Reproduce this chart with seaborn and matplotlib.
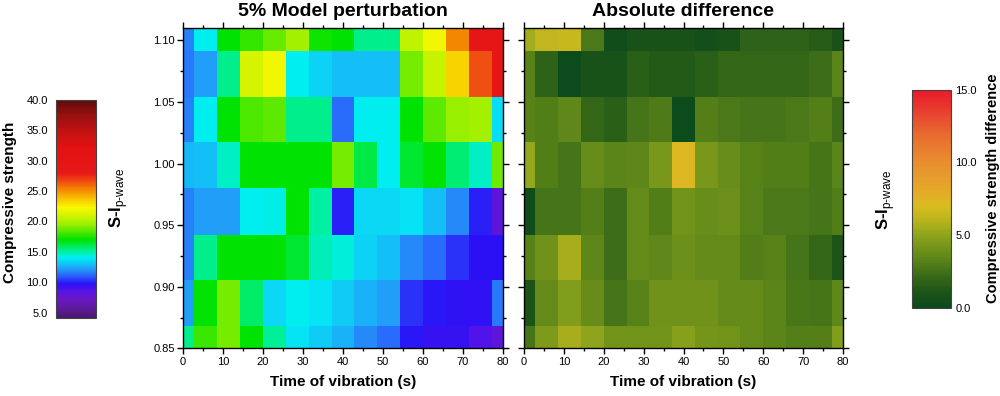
import matplotlib
matplotlib.use("Agg")
import numpy as np
import matplotlib.pyplot as plt
import seaborn as sns
from matplotlib.colors import LinearSegmentedColormap, Normalize
from matplotlib.ticker import MultipleLocator, FormatStrFormatter

# model grid (cell centres)
time_s = [0, 5.71, 11.43, 17.14, 22.86, 28.57, 34.29, 40, 45.71, 51.43, 57.14, 62.86, 68.57, 74.29, 80]
si_pwave = [0.85, 0.887, 0.924, 0.961, 0.999, 1.036, 1.073, 1.11]

# compressive strength, 5% perturbation (rows = si_pwave, bottom to top)
strength_085 = [15.3, 18.0, 19.0, 17.0, 15.2, 13.8, 13.2, 12.6, 11.8, 11.2, 9.8, 9.5, 9.5, 8.8, 8.0]
strength_089 = [12.2, 17.0, 19.0, 15.8, 13.5, 14.0, 13.8, 13.2, 12.6, 12.2, 10.3, 9.8, 9.6, 9.6, 11.5]
strength_092 = [11.7, 15.3, 17.0, 17.0, 17.0, 16.5, 14.8, 14.4, 13.4, 13.0, 11.8, 11.2, 10.3, 9.7, 9.7]
strength_096 = [11.7, 12.2, 12.3, 14.0, 14.2, 17.0, 15.0, 10.0, 13.5, 13.5, 13.8, 13.0, 11.8, 10.0, 8.0]
strength_100 = [12.8, 13.0, 14.6, 17.0, 17.0, 17.0, 17.0, 19.0, 16.2, 14.0, 16.5, 17.0, 15.6, 14.6, 18.8]
strength_104 = [11.7, 14.0, 17.0, 18.3, 18.5, 15.3, 15.3, 11.3, 14.0, 14.0, 17.0, 18.5, 19.5, 19.8, 13.7]
strength_107 = [11.5, 12.2, 15.3, 21.0, 22.0, 14.0, 13.3, 13.0, 13.0, 13.0, 19.0, 20.7, 23.3, 26.5, 29.0]
strength_111 = [11.7, 14.0, 17.0, 17.8, 18.7, 19.8, 17.3, 17.0, 15.3, 15.3, 20.5, 22.0, 25.3, 29.0, 29.0]

# absolute difference
diff_085 = [2.6, 4.5, 5.6, 5.0, 4.1, 4.1, 4.1, 4.8, 4.2, 4.1, 3.6, 3.3, 3.1, 3.1, 4.6]
diff_089 = [1.0, 3.6, 4.6, 3.7, 2.6, 3.2, 4.0, 4.0, 4.0, 3.6, 3.6, 3.3, 2.7, 2.6, 3.5]
diff_092 = [3.2, 4.0, 5.6, 3.4, 2.3, 3.6, 3.5, 3.9, 3.6, 3.6, 3.0, 3.2, 2.6, 2.0, 1.0]
diff_096 = [0.3, 2.6, 2.6, 3.1, 2.3, 3.6, 3.0, 4.1, 3.8, 3.9, 3.2, 2.8, 2.8, 2.6, 3.0]
diff_100 = [5.2, 3.0, 2.6, 3.7, 3.3, 3.4, 4.3, 7.3, 4.3, 3.8, 3.2, 3.0, 3.0, 2.6, 3.3]
diff_104 = [3.2, 3.0, 3.5, 2.0, 1.6, 2.6, 2.9, 0.1, 3.1, 2.8, 2.6, 2.6, 2.8, 3.1, 2.3]
diff_107 = [3.2, 1.8, 0.1, 0.8, 0.8, 1.6, 1.4, 1.4, 1.6, 2.0, 2.0, 2.0, 2.0, 2.3, 3.3]
diff_111 = [5.5, 6.3, 6.5, 2.8, 0.3, 0.8, 0.8, 0.8, 0.5, 0.8, 1.8, 1.8, 1.8, 1.5, 0.8]

strength = np.array([strength_085, strength_089, strength_092, strength_096,
                     strength_100, strength_104, strength_107, strength_111])
diff = np.array([diff_085, diff_089, diff_092, diff_096,
                 diff_100, diff_104, diff_107, diff_111])

sns.set_theme(style="ticks")
plt.rcParams['font.family'] = ['Liberation Sans', 'DejaVu Sans']
plt.rcParams['mathtext.fontset'] = 'custom'
plt.rcParams['mathtext.rm'] = 'Liberation Sans'
plt.rcParams['text.color'] = 'black'
plt.rcParams['axes.labelcolor'] = 'black'
plt.rcParams['xtick.color'] = 'black'
plt.rcParams['ytick.color'] = 'black'

# colour scales
s_min, s_max = 4.2, 40.0
s_stops = [(4.2, '#4a1870'), (5.5, '#5c1a96'), (7, '#6a18c0'), (8.5, '#5814e6'),
           (9.7, '#2a10f6'), (11, '#2a60fc'), (12, '#2494f8'), (13, '#12c4f8'),
           (14, '#00eef2'), (15, '#00f0a4'), (16, '#00ea50'), (17, '#00e200'),
           (18.3, '#50e800'), (19.5, '#98f000'), (21, '#d4f400'), (22.3, '#f8f800'),
           (23.7, '#f8c400'), (25.2, '#f48a00'), (26.5, '#f05012'), (28, '#e81818'),
           (32, '#e41212'), (34.5, '#c81212'), (37.5, '#981010'), (40, '#5e0c0c')]
cmap_s = LinearSegmentedColormap.from_list(
    'strength', [((v - s_min) / (s_max - s_min), c) for v, c in s_stops])

d_min, d_max = 0.0, 15.0
d_stops = [(0, '#0b4a1c'), (1, '#1c5418'), (2, '#346618'), (3, '#527e18'),
           (4, '#70921a'), (5, '#8ea41c'), (6, '#b8b41c'), (7, '#d8bc20'),
           (8, '#e4aa28'), (10, '#e88e30'), (12, '#e86a30'), (13.5, '#e84030'),
           (15, '#e81a28')]
cmap_d = LinearSegmentedColormap.from_list(
    'diff', [((v - d_min) / (d_max - d_min), c) for v, c in d_stops])

fig = plt.figure(figsize=(10, 3.96), dpi=100)
ax1 = fig.add_axes([0.183, 0.120, 0.320, 0.809])
ax2 = fig.add_axes([0.524, 0.120, 0.319, 0.809])
cax1 = fig.add_axes([0.056, 0.198, 0.040, 0.550])
cax2 = fig.add_axes([0.912, 0.223, 0.039, 0.550])

m1 = ax1.pcolormesh(time_s, si_pwave, strength, cmap=cmap_s,
                    norm=Normalize(s_min, s_max), shading='nearest')
m2 = ax2.pcolormesh(time_s, si_pwave, diff, cmap=cmap_d,
                    norm=Normalize(d_min, d_max), shading='nearest')

for ax in (ax1, ax2):
    ax.set_xlim(0, 80)
    ax.set_ylim(0.85, 1.11)
    ax.xaxis.set_major_locator(MultipleLocator(10))
    ax.xaxis.set_minor_locator(MultipleLocator(5))
    ax.yaxis.set_major_locator(MultipleLocator(0.05))
    ax.yaxis.set_minor_locator(MultipleLocator(0.025))
    ax.yaxis.set_major_formatter(FormatStrFormatter('%.2f'))
    ax.tick_params(which='both', direction='out', top=True, right=True,
                   color='black', width=1, labelsize=8, pad=2)
    ax.tick_params(which='major', length=4)
    ax.tick_params(which='minor', length=2.5)
    for sp in ax.spines.values():
        sp.set_color('black')
        sp.set_linewidth(1)
    ax.set_xlabel('Time of vibration (s)', fontsize=11, fontweight='bold', labelpad=6)

ax2.tick_params(labelleft=False)
ax1.set_title('5% Model perturbation', fontsize=14, fontweight='bold', pad=9)
ax2.set_title('Absolute difference', fontsize=14, fontweight='bold', pad=9)

si_label = r'S-I$_{\rm p\text{-}wave}$'
fig.text(0.119, 0.50, si_label, rotation=90, fontsize=12, fontweight='bold',
         ha='center', va='center')
fig.text(0.886, 0.495, si_label, rotation=90, fontsize=12, fontweight='bold',
         ha='center', va='center')

cb1 = fig.colorbar(m1, cax=cax1)
cb1.set_ticks([5, 10, 15, 20, 25, 30, 35, 40])
cb1.ax.yaxis.set_major_formatter(FormatStrFormatter('%.1f'))
cb1.ax.yaxis.set_ticks_position('left')
cb1.ax.tick_params(length=0, labelsize=8, pad=6)
cb1.outline.set_edgecolor('#444444')
cb1.outline.set_linewidth(0.8)
fig.text(0.010, 0.49, 'Compressive strength', rotation=90, fontsize=11,
         fontweight='bold', ha='center', va='center')

cb2 = fig.colorbar(m2, cax=cax2)
cb2.set_ticks([0, 5, 10, 15])
cb2.ax.yaxis.set_major_formatter(FormatStrFormatter('%.1f'))
cb2.ax.tick_params(length=0, labelsize=8, pad=3)
cb2.outline.set_edgecolor('#444444')
cb2.outline.set_linewidth(0.8)
fig.text(0.993, 0.525, 'Compressive strength difference', rotation=90, fontsize=10.5,
         fontweight='bold', ha='center', va='center')

fig.savefig('out.png', dpi=100)
